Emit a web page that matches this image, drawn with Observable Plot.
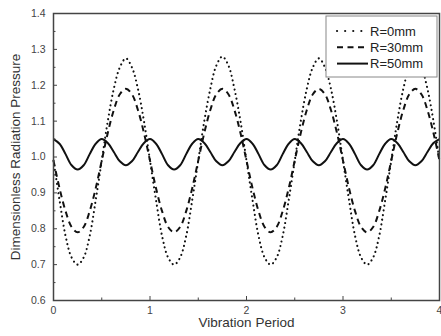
<!DOCTYPE html>
<html>
<head>
<meta charset="utf-8">
<script src="https://cdn.jsdelivr.net/npm/d3@7"></script>
<script src="https://cdn.jsdelivr.net/npm/@observablehq/plot@0.6"></script>
<style>
  html, body { margin: 0; padding: 0; background: #fff; }
  #chart svg { display: block; font-family: "Liberation Sans", Arial, sans-serif; }
</style>
</head>
<body>
<div id="chart"></div>
<script>
// Series names
const seriesNames = ["R=0mm", "R=30mm", "R=50mm"];

// Sample positions (vibration period), step 1/16
const xs = d3.range(0, 65).map(i => i / 16);

// R=0mm (dotted)
const r0 = [
  0.99, 0.88, 0.78, 0.72, 0.70, 0.72, 0.78, 0.88, 0.99, 1.10, 1.19, 1.25, 1.275, 1.25, 1.19, 1.10,
  0.99, 0.88, 0.78, 0.72, 0.70, 0.72, 0.78, 0.88, 0.99, 1.10, 1.19, 1.255, 1.28, 1.255, 1.19, 1.10,
  0.99, 0.88, 0.78, 0.72, 0.70, 0.72, 0.78, 0.88, 0.99, 1.10, 1.19, 1.25, 1.275, 1.25, 1.19, 1.10,
  0.99, 0.88, 0.78, 0.72, 0.70, 0.72, 0.78, 0.88, 0.99, 1.10, 1.19, 1.25, 1.275, 1.25, 1.19, 1.10,
  0.99
];
// R=30mm (dashed)
const r30 = [
  0.99, 0.913, 0.849, 0.805, 0.79, 0.805, 0.849, 0.913, 0.99, 1.067, 1.131, 1.175, 1.19, 1.175, 1.131, 1.067,
  0.99, 0.913, 0.849, 0.805, 0.79, 0.805, 0.849, 0.913, 0.99, 1.067, 1.131, 1.175, 1.19, 1.175, 1.131, 1.067,
  0.99, 0.913, 0.849, 0.805, 0.79, 0.805, 0.849, 0.913, 0.99, 1.067, 1.131, 1.175, 1.19, 1.175, 1.131, 1.067,
  0.99, 0.913, 0.849, 0.805, 0.79, 0.805, 0.849, 0.913, 0.99, 1.067, 1.131, 1.175, 1.19, 1.175, 1.131, 1.067,
  0.99
];
// R=50mm (solid)
const r50 = [
  1.05, 1.037, 1.008, 0.977, 0.965, 0.977, 1.008, 1.037, 1.05, 1.039, 1.014, 0.988, 0.977, 0.988, 1.014, 1.039,
  1.05, 1.037, 1.008, 0.977, 0.965, 0.977, 1.008, 1.037, 1.05, 1.039, 1.014, 0.988, 0.977, 0.988, 1.014, 1.039,
  1.05, 1.037, 1.008, 0.977, 0.965, 0.977, 1.008, 1.037, 1.05, 1.039, 1.014, 0.988, 0.977, 0.988, 1.014, 1.039,
  1.05, 1.037, 1.008, 0.977, 0.965, 0.977, 1.008, 1.037, 1.05, 1.039, 1.014, 0.988, 0.977, 0.988, 1.014, 1.039,
  1.05
];

// Ticks
const xTicks = [0, 1, 2, 3, 4];
const xMinor = [0.5, 1.5, 2.5, 3.5];
const yTicks = [0.6, 0.7, 0.8, 0.9, 1.0, 1.1, 1.2, 1.3, 1.4];
const yMinor = [0.65, 0.75, 0.85, 0.95, 1.05, 1.15, 1.25, 1.35];

const xLabel = "Vibration Period";
const yLabel = "Dimensionless Radiation Pressure";

const styles = [
  {dash: "0.1,4.6", legendDash: "0.1,8", width: 2.1, cap: "round"},
  {dash: "6,4.5", legendDash: "6,4.5", width: 2, cap: "butt"},
  {dash: null, legendDash: null, width: 2, cap: "butt"}
];
const seriesValues = [r0, r30, r50];
const tables = seriesValues.map(vals => xs.map((x, i) => ({x, y: vals[i]})));

const axisColor = "#444";
const textColor = "#444";

const lineMarks = tables.map((t, k) => Plot.line(t, {
  x: "x", y: "y", curve: "catmull-rom",
  stroke: "#111", strokeWidth: styles[k].width,
  strokeDasharray: styles[k].dash, strokeLinecap: styles[k].cap
}));

const chart = Plot.plot({
  width: 441,
  height: 336,
  marginLeft: 53,
  marginRight: 2,
  marginTop: 13,
  marginBottom: 36,
  style: {fontFamily: "Liberation Sans, Arial, sans-serif", background: "#fff"},
  x: {domain: [0, 4]},
  y: {domain: [0.6, 1.4]},
  marks: [
    ...lineMarks,
    // inward ticks
    Plot.axisY({ticks: yTicks, tickSize: -4, tickFormat: () => "", stroke: axisColor, strokeWidth: 1, label: null}),
    Plot.axisY({ticks: yMinor, tickSize: -2.5, tickFormat: () => "", stroke: axisColor, strokeWidth: 1, label: null}),
    Plot.axisX({ticks: xTicks, tickSize: -4, tickFormat: () => "", stroke: axisColor, strokeWidth: 1, label: null}),
    Plot.axisX({ticks: xMinor, tickSize: -2.5, tickFormat: () => "", stroke: axisColor, strokeWidth: 1, label: null}),
    // tick labels
    Plot.axisY({ticks: yTicks, tickSize: 0, tickPadding: 8, tickFormat: d3.format(".1f"), fontSize: 10.5, fill: textColor, label: null}),
    Plot.axisX({ticks: xTicks, tickSize: 0, tickPadding: 6, tickFormat: d3.format("d"), fontSize: 10.5, fill: textColor, label: null}),
    // axis titles
    Plot.text([yLabel], {frameAnchor: "left", textAnchor: "middle", rotate: -90, dx: -38, fontSize: 13.5, fill: "#333"}),
    Plot.text([xLabel], {frameAnchor: "bottom", textAnchor: "middle", dy: 26, fontSize: 13.5, fill: "#333"}),
    Plot.frame({stroke: axisColor, strokeWidth: 1.5})
  ]
});

// Legend (top-right box)
const svg = d3.select(chart);
const lg = svg.append("g")
  .attr("font-family", "Liberation Sans, Arial, sans-serif")
  .attr("text-anchor", "start");
lg.append("rect")
  .attr("x", 326).attr("y", 16).attr("width", 111).attr("height", 61)
  .attr("fill", "#fff").attr("stroke", "#888").attr("stroke-width", 1);
seriesNames.forEach((name, k) => {
  const cy = 31 + k * 16.3;
  lg.append("line")
    .attr("x1", 337).attr("x2", 368).attr("y1", cy).attr("y2", cy)
    .attr("stroke", "#111").attr("stroke-width", styles[k].width)
    .attr("stroke-dasharray", styles[k].legendDash).attr("stroke-linecap", styles[k].cap);
  lg.append("text")
    .attr("x", 370).attr("y", cy).attr("dy", "0.35em")
    .attr("text-anchor", "start")
    .attr("font-size", 13).attr("fill", "#222").text(name);
});

document.getElementById("chart").appendChild(chart);
</script>
</body>
</html>
